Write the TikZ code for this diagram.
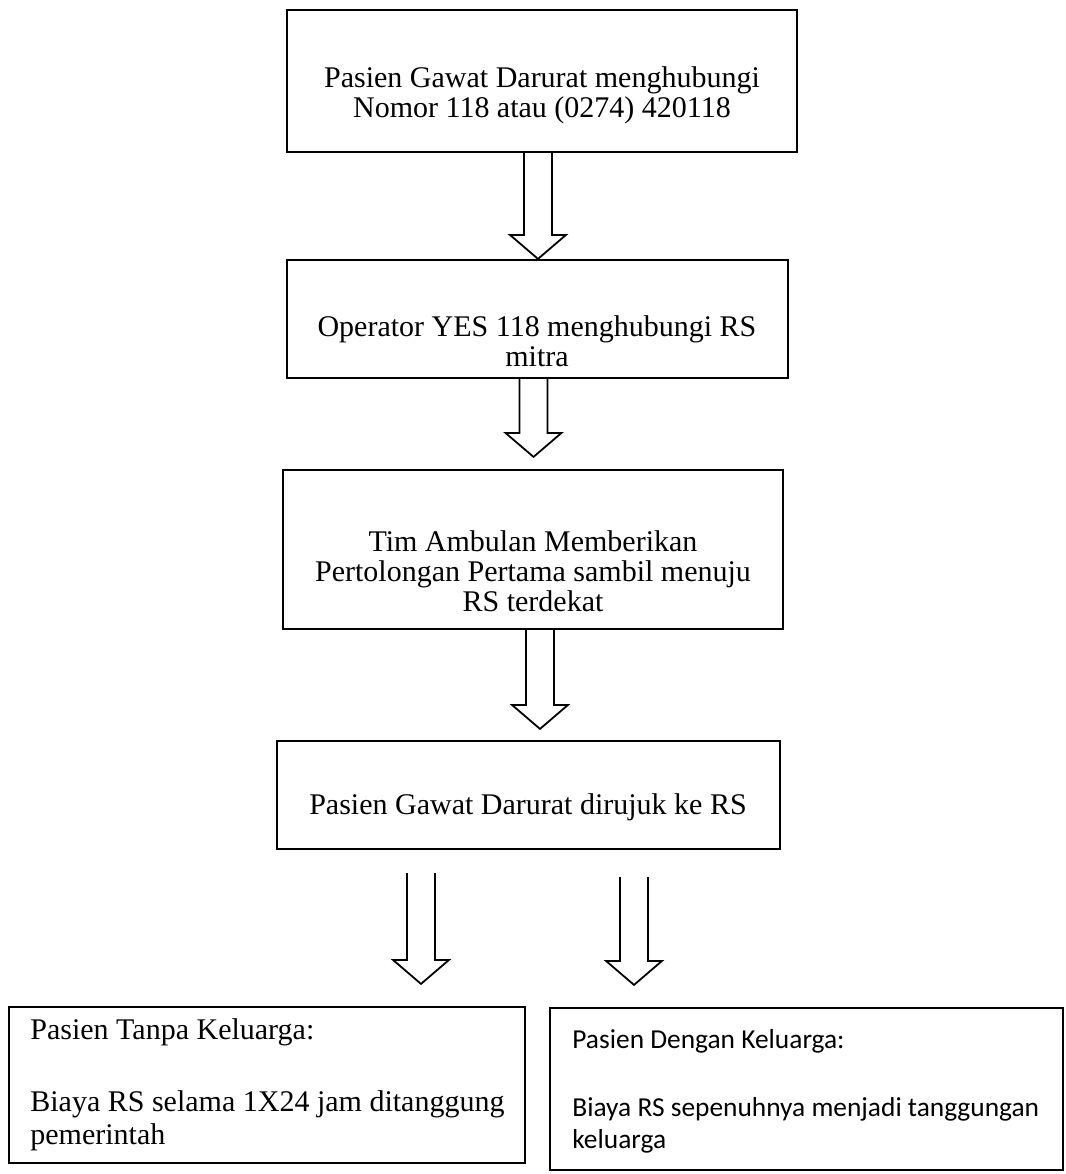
\documentclass[tikz,border=0pt]{standalone}
\usepackage{fontspec}
\setmainfont{Liberation Serif}
\newfontfamily\carlito{Carlito}
\usetikzlibrary{calc}

\tikzset{
  kotak/.style={draw, line width=1.1pt, inner sep=0pt},
  teks/.style={align=center, inner sep=0pt, font=\fontsize{15}{#1}\selectfont},
  teks/.default=15,
  panah/.style={draw, line width=0.9pt, line join=miter,
    to path={let \p1=(\tikztostart), \p2=(\tikztotarget) in
      (\x1-7pt,\y1) -- (\x1-7pt,\y2+12pt) -- (\x1-14pt,\y2+12pt) -- (\x1,\y2)
      -- (\x1+14pt,\y2+12pt) -- (\x1+7pt,\y2+12pt) -- (\x1+7pt,\y1)}}
}

\begin{document}
\begin{tikzpicture}[x=0.5pt, y=-0.5pt]
    \useasboundingbox (0,0) rectangle (1066,1174);

    % Kotak alur utama
    \node[kotak, minimum width=255pt, minimum height=71pt] (call) at (542,81) {};
    \node[teks] (call-t) at (542,95) {Pasien Gawat Darurat menghubungi\\Nomor 118 atau (0274) 420118};

    \node[kotak, minimum width=250.5pt, minimum height=59pt] (op) at (537.5,319) {};
    \node[teks] (op-t) at (537,341) {Operator YES 118 menghubungi RS\\mitra};

    \node[kotak, minimum width=250pt, minimum height=79.5pt] (amb) at (533,549.5) {};
    \node[teks] (amb-t) at (533,571) {Tim Ambulan Memberikan\\Pertolongan Pertama sambil menuju\\RS terdekat};

    \node[kotak, minimum width=251.5pt, minimum height=54pt] (rujuk) at (528.5,795) {};
    \node[teks] (rujuk-t) at (528,807) {Pasien Gawat Darurat dirujuk ke RS};

    % Kotak cabang bawah
    \node[kotak, minimum width=258pt, minimum height=78pt] (tanpa) at (267,1085) {};
    \node[inner sep=0pt, anchor=north west, align=left, font=\fontsize{15}{16.5}\selectfont] (tanpa-t) at (30,1018)
        {Pasien Tanpa Keluarga:\\[19.5pt]Biaya RS selama 1X24 jam ditanggung\\pemerintah};

    \node[kotak, minimum width=256.5pt, minimum height=81pt] (dengan) at (806.5,1089) {};
    \node[inner sep=0pt, anchor=north west, align=left, font=\carlito\fontsize{13.7}{16}\selectfont] (dengan-t) at (572,1029)
        {Pasien Dengan Keluarga:\\[18pt]Biaya RS sepenuhnya menjadi tanggungan\\keluarga};

    % Panah
    \coordinate (kiri) at (421,873);
    \coordinate (kanan) at (634,877);
    \draw[panah] ([xshift=-2pt]call.south) to (op.north);
    \draw[panah] ([xshift=-2pt]op.south) to ([yshift=6pt]amb.north);
    \draw[panah] ([xshift=3.5pt]amb.south) to ([yshift=5.5pt]rujuk.north);
    \draw[panah] (kiri) to ([yshift=11pt]tanpa.north);
    \draw[panah] (kanan) to ([yshift=11pt]dengan.north);
\end{tikzpicture}
\end{document}
